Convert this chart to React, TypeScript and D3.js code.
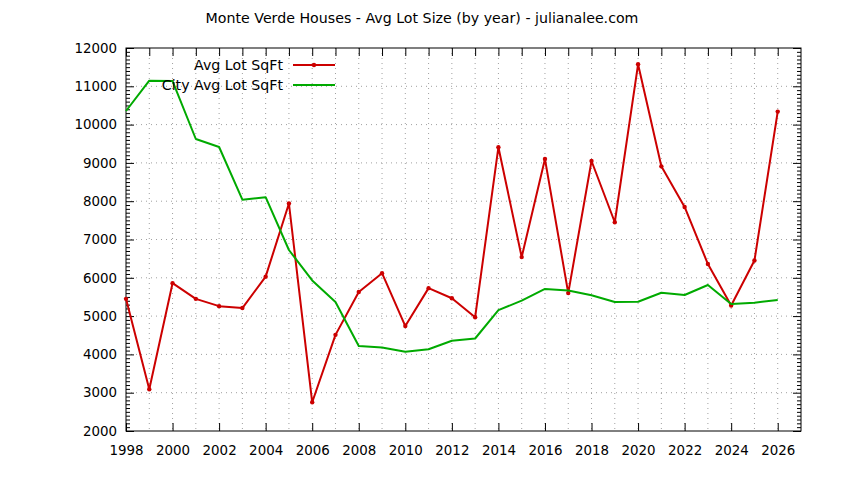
import { useEffect, useRef } from "react";
import * as d3 from "d3";

// data
const YEARS = d3.range(1998, 2027);
const AVG_LOT = [
  5450, 3090, 5860, 5450, 5260, 5210, 6030, 7940, 2750, 4510, 5630, 6120,
  4740, 5730, 5465, 4970, 9410, 6540, 9100, 5600, 9050, 7450, 11575, 8910,
  7850, 6360, 5275, 6450, 10340,
];
const CITY_AVG_LOT = [
  10355, 11146, 11138, 9624, 9415, 8040, 8105, 6726, 5930, 5370, 4219, 4180,
  4070, 4135, 4355, 4415, 5155, 5405, 5710, 5670, 5543, 5368, 5376, 5611,
  5551, 5812, 5316, 5350, 5420,
];
const SERIES_NAMES = ["Avg Lot SqFt", "City Avg Lot SqFt"];
const TITLE = "Monte Verde Houses - Avg Lot Size (by year) - julianalee.com";
const Y_TICKS = d3.range(2000, 12001, 1000);
const X_TICKS = d3.range(1998, 2027, 2);

const RED = "#cc0000";
const GREEN = "#00aa00";
const FONT = "DejaVu Sans, sans-serif";

export default function App() {
  const ref = useRef<SVGSVGElement>(null);

  useEffect(() => {
    if (!ref.current) return;
    const svg = d3.select(ref.current);
    svg.selectAll("*").remove();

    const W = 844;
    const H = 480;
    const m = { top: 48, right: 43, bottom: 49, left: 126 };
    const w = W - m.left - m.right;
    const h = H - m.top - m.bottom;

    svg.append("rect").attr("width", W).attr("height", H).attr("fill", "#fff");

    const x = d3.scaleLinear().domain([1998, 2027]).range([0, w]);
    const y = d3.scaleLinear().domain([2000, 12000]).range([h, 0]);

    // title
    svg
      .append("text")
      .attr("x", 422)
      .attr("y", 23)
      .attr("text-anchor", "middle")
      .attr("font-size", 14.2)
      .attr("font-family", FONT)
      .text(TITLE);

    const g = svg.append("g").attr("transform", `translate(${m.left},${m.top})`);

    // grid
    const gridColor = "#a0a0a0";
    g.append("g")
      .selectAll("line")
      .data(YEARS.slice(1))
      .join("line")
      .attr("x1", (d) => x(d))
      .attr("x2", (d) => x(d))
      .attr("y1", 0)
      .attr("y2", h)
      .attr("stroke", gridColor)
      .attr("stroke-width", 1)
      .attr("stroke-dasharray", "1 4");
    g.append("g")
      .selectAll("line")
      .data(Y_TICKS.slice(1, -1))
      .join("line")
      .attr("x1", 0)
      .attr("x2", w)
      .attr("y1", (d) => y(d))
      .attr("y2", (d) => y(d))
      .attr("stroke", gridColor)
      .attr("stroke-width", 1)
      .attr("stroke-dasharray", "1 4");

    // axes
    const style = (a: any) => {
      a.select(".domain").remove();
      a.selectAll("line").attr("stroke", "#000");
      a.selectAll("text")
        .attr("font-size", 13.4)
        .attr("font-family", FONT)
        .attr("fill", "#000");
    };
    const minorY = d3.range(2000, 12001, 100).filter((d) => d % 1000 !== 0);

    g.append("g")
      .attr("transform", `translate(0,${h})`)
      .call(
        d3.axisBottom(x).tickValues(X_TICKS).tickFormat(d3.format("d")).tickSize(-8).tickPadding(14)
      )
      .call(style);
    g.append("g")
      .call(d3.axisTop(x).tickValues(YEARS).tickFormat(() => "").tickSize(-8))
      .call(style);
    g.append("g")
      .call(d3.axisLeft(y).tickValues(Y_TICKS).tickFormat(d3.format("d")).tickSize(-8).tickPadding(9))
      .call(style);
    g.append("g")
      .call(d3.axisLeft(y).tickValues(minorY).tickFormat(() => "").tickSize(-4))
      .call(style);
    g.append("g")
      .attr("transform", `translate(${w},0)`)
      .call(d3.axisRight(y).tickValues(Y_TICKS).tickFormat(() => "").tickSize(-8))
      .call(style);
    g.append("g")
      .attr("transform", `translate(${w},0)`)
      .call(d3.axisRight(y).tickValues(minorY).tickFormat(() => "").tickSize(-4))
      .call(style);

    g.append("rect")
      .attr("width", w)
      .attr("height", h)
      .attr("fill", "none")
      .attr("stroke", "#000")
      .attr("stroke-width", 1);

    // lines
    const line = d3
      .line<number>()
      .x((_, i) => x(YEARS[i]))
      .y((d) => y(d));

    g.append("path")
      .datum(AVG_LOT)
      .attr("fill", "none")
      .attr("stroke", RED)
      .attr("stroke-width", 2)
      .attr("stroke-linejoin", "round")
      .attr("d", line);
    g.append("g")
      .selectAll("circle")
      .data(AVG_LOT)
      .join("circle")
      .attr("cx", (_, i) => x(YEARS[i]))
      .attr("cy", (d) => y(d))
      .attr("r", 2.2)
      .attr("fill", RED);

    g.append("path")
      .datum(CITY_AVG_LOT)
      .attr("fill", "none")
      .attr("stroke", GREEN)
      .attr("stroke-width", 2)
      .attr("stroke-linejoin", "round")
      .attr("d", line);

    // legend
    const colors = [RED, GREEN];
    const leg = svg.append("g");
    SERIES_NAMES.forEach((name, i) => {
      const ly = 65 + i * 20;
      leg
        .append("text")
        .attr("x", 283)
        .attr("y", ly)
        .attr("dy", "0.35em")
        .attr("text-anchor", "end")
        .attr("font-size", 14.2)
        .attr("font-family", FONT)
        .text(name);
      leg
        .append("line")
        .attr("x1", 293)
        .attr("x2", 335)
        .attr("y1", ly)
        .attr("y2", ly)
        .attr("stroke", colors[i])
        .attr("stroke-width", 2);
      if (i === 0) {
        leg
          .append("circle")
          .attr("cx", 314)
          .attr("cy", ly)
          .attr("r", 2.2)
          .attr("fill", RED);
      }
    });
  }, []);

  return (
    <svg
      ref={ref}
      width={844}
      height={480}
      style={{ position: "absolute", left: 0, top: 0, display: "block" }}
    />
  );
}
